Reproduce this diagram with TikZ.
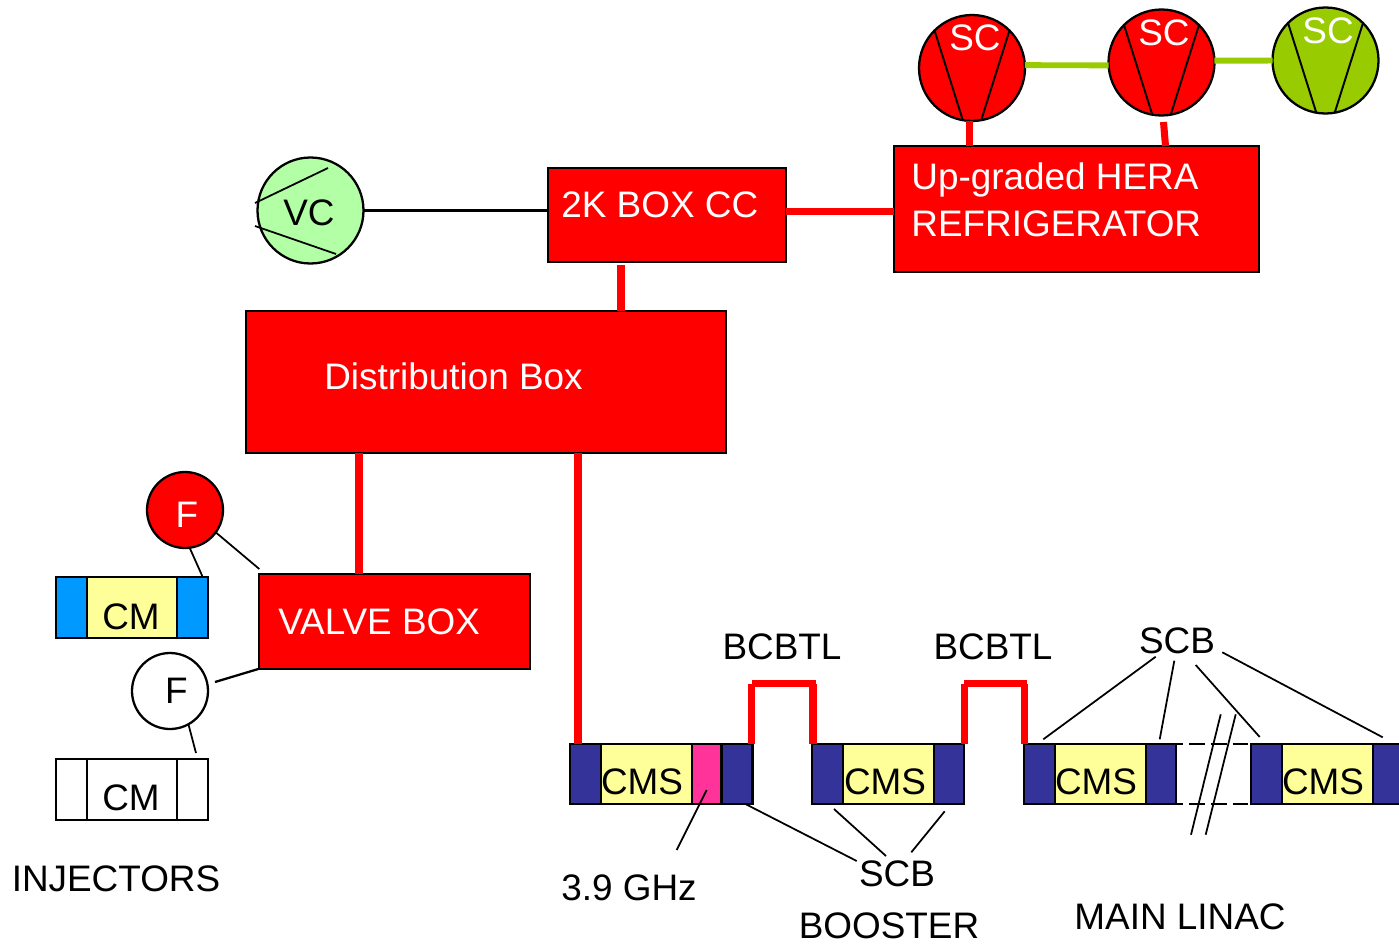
\documentclass[tikz,border=0pt]{standalone}
\usepackage{fontspec}
\setmainfont{Liberation Sans}
\definecolor{cmsyellow}{HTML}{FFFF99}
\definecolor{cmsblue}{HTML}{333399}
\definecolor{cmcyan}{HTML}{0099FF}
\definecolor{ghzpink}{HTML}{FF3399}
\definecolor{scgreen}{HTML}{99CC00}
\definecolor{vcgreen}{HTML}{B2FFA6}
\tikzset{
    box/.style 2 args={draw=black,line width=1.3pt,inner sep=0pt,outer sep=0pt,anchor=north west,
        minimum width=#1*0.02cm,minimum height=#2*0.02cm},
    disc/.style={circle,draw=black,line width=1.3pt,inner sep=0pt,outer sep=0pt,minimum size=#1*0.02cm},
    txt/.style={anchor=base,inner sep=0pt,font=\fontsize{21}{25}\selectfont},
    redtxt/.style={txt,text=white},
    pipe/.style={line width=4pt,red},
    greenpipe/.style={line width=3.4pt,scgreen},
    thin line/.style={line width=1pt},
    breakline/.style={line width=1pt,dash pattern=on 9pt off 3.4pt,dash phase=5pt}
}
\begin{document}
\begin{tikzpicture}[x=0.02cm,y=-0.02cm]
    \useasboundingbox (0,0) rectangle (1399,943);
    % boxes
    \node[box={365}{126},fill=red] (refr) at (894,146) {};
    \node[box={238}{94},fill=red] (cc) at (548,168) {};
    \node[box={480}{142},fill=red] (dist) at (246,311) {};
    \node[box={271}{95},fill=red] (valve) at (259,574) {};
    \node[redtxt,anchor=base west] (refrtop) at (911,189) {Up-graded HERA};
    \node[redtxt,anchor=base west] (refrbot) at (911,236) {REFRIGERATOR};
    \node[redtxt,anchor=base west] (cctxt) at (561,217) {2K BOX CC};
    \node[redtxt,anchor=base west] (disttxt) at (324,389) {Distribution Box};
    \node[redtxt,anchor=base west] (valvetxt) at (278,634) {VALVE BOX};
    % compressors
    \node[disc=106,fill=red] (sc1) at (972,68) {};
    \node[disc=106,fill=red] (sc2) at (1161.5,62.5) {};
    \node[disc=106,fill=scgreen] (sc3) at (1325.5,60.5) {};
    \foreach \n/\x/\y in {1/975/51,2/1164/45,3/1328/43}{
        \draw[line width=1.1pt] (sc\n.135) -- (sc\n.-100);
        \draw[line width=1.1pt] (sc\n.45) -- (sc\n.-80);
        \node[redtxt] (sctxt\n) at (\x,\y) {SC};
    }
    \draw[greenpipe] (sc1.3) -- (sc2.183);
    \draw[greenpipe] (sc2.2) -- (sc3.west);
    \node[disc=106,fill=vcgreen] (vc) at (310.5,210.5) {};
    \node[txt] (vctxt) at (309,225) {VC};
    \foreach \name/\x/\y in {vca/255/203,vcb/328/168,vcc/255/226,vcd/336/254}{
        \coordinate (\name) at (\x,\y);
    }
    \draw[thin line] (vca) -- (vcb);
    \draw[thin line] (vcc) -- (vcd);
    \draw[line width=1.2pt] (vc.east) -- (vc.east -| cc.west);
    % injectors
    \node[disc=76,fill=red] (fred) at (185,510) {};
    \node[redtxt] (fredtxt) at (187,527) {F};
    \node[disc=76,fill=white] (fwhite) at (170,691) {};
    \node[txt] (fwhitetxt) at (176.5,703) {F};
    \foreach \n/\y/\endcol/\midcol in {1/577/cmcyan/cmsyellow,2/759/white/white}{
        \node[box={31}{61},fill=\endcol] (cm\n l) at (56,\y) {};
        \node[box={90}{61},fill=\midcol] (cm\n c) at (87,\y) {};
        \node[box={31}{61},fill=\endcol] (cm\n r) at (177,\y) {};
    }
    \node[txt] (cmtxt1) at (131,629) {CM};
    \node[txt] (cmtxt2) at (131,810) {CM};
    % cryomodule strings
    \node[box={31}{60},fill=cmsblue] (cmsal) at (570,744) {};
    \node[box={91}{60},fill=cmsyellow] (cmsac) at (601,744) {};
    \node[box={29.5}{60},fill=ghzpink] (cmsag) at (692,744) {};
    \node[box={31}{60},fill=cmsblue] (cmsar) at (721.5,744) {};
    \node[txt] (cmstxta) at (642,794.5) {CMS};
    \foreach \m/\x/\t in {b/812/885,c/1024/1096,d/1251/1323}{
        \node[box={31}{60},fill=cmsblue] (cms\m l) at (\x,744) {};
        \node[box={91}{60},fill=cmsyellow] (cms\m c) at (\x+31,744) {};
        \node[box={30}{60},fill=cmsblue] (cms\m r) at (\x+122,744) {};
        \node[txt] (cmstxt\m) at (\t,794.5) {CMS};
    }
    \draw[breakline] (cmscr.north east) -- (cmsdl.north west);
    \draw[breakline] (cmscr.south east) -- (cmsdl.south west);
    % red pipes
    \foreach \name/\x/\y in {pa/969/121,pb/969/146,pc/1163.5/122,pd/1165.5/146,pe/786/211.5,pf/894/211.5,
        pg/621/265,ph/621/311,pi/359/453,pj/359/574,pk/578/453,pl/578/744,
        ua/751.5/744,ub/751.5/684,uc/813/744,ud/813/684,ue/752/683.5,uf/816/683.5,
        va/964/744,vb/964/684,vc1/1024.5/744,vd/1024.5/684,ve/964/683.5,vf/1027/683.5}{
        \coordinate (\name) at (\x,\y);
    }
    \foreach \a/\b in {pa/pb,pc/pd,pe/pf,pg/ph,pi/pj,pk/pl,ua/ub,uc/ud,ue/uf,va/vb,vc1/vd,ve/vf}{
        \draw[pipe] (\a) -- (\b);
    }
    % labels
    \node[txt] (bcbtla) at (782,659) {BCBTL};
    \node[txt] (bcbtlb) at (993,659) {BCBTL};
    \node[txt] (scbtop) at (1177,653) {SCB};
    \node[txt] (scbbot) at (897,886) {SCB};
    \node[txt] (ghz) at (629,900) {3.9 GHz};
    \node[txt] (booster) at (889,938.5) {BOOSTER};
    \node[txt] (linac) at (1180,929) {MAIN LINAC};
    \node[txt] (injectors) at (116,891) {INJECTORS};
    % thin leader lines
    \foreach \name/\x/\y in {la/202.7/577,lb/259.3/569,lc/215/682,ld/258.3/669,le/196/753,
        ma/1155.7/656.7,mb/1043.3/739.3,mc/1174.3/660.7,md/1159.7/739.3,
        me/1195.7/665,mf/1259.7/737,mg/1222.3/652.3,mh/1382.7/737.3,
        na/1220.7/714.3,nb/1191/834.7,nc/1235.7/714.3,nd/1205.7/834.7,
        oa/706.7/790,ob/676.7/850,oc/746/804.3,od/856.7/861,oe/834/809,of/886/856,og/944.7/811.3,oh/911.3/852.3}{
        \coordinate (\name) at (\x,\y);
    }
    \draw[thin line] (fred.-83) -- (la);
    \draw[thin line] (fred.-36) -- (lb);
    \draw[line width=1.3pt] (lc) -- (ld);
    \draw[thin line] (fwhite.-61) -- (le);
    \foreach \a/\b in {ma/mb,mc/md,me/mf,mg/mh,na/nb,nc/nd,oa/ob,oc/od,oe/of,og/oh}{
        \draw[thin line] (\a) -- (\b);
    }
\end{tikzpicture}
\end{document}
